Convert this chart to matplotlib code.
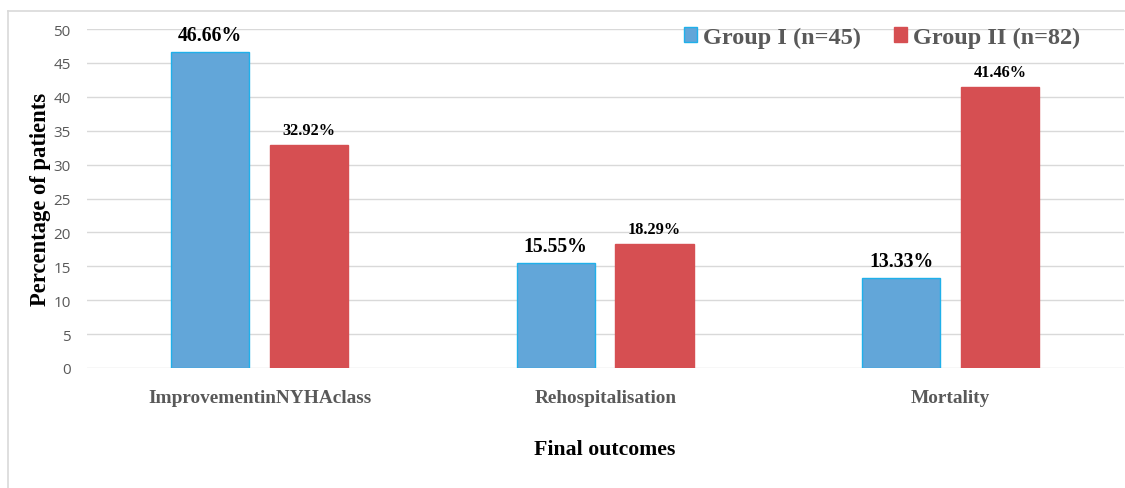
import matplotlib
matplotlib.use("Agg")
import matplotlib.pyplot as plt
from matplotlib.lines import Line2D
from matplotlib.patches import Patch
import numpy as np

categories = ["ImprovementinNYHAclass", "Rehospitalisation", "Mortality"]
group1 = [46.66, 15.55, 13.33]
group2 = [32.92, 18.29, 41.46]
series_names = ["Group I (n=45)", "Group II (n=82)"]
y_ticks = [0, 5, 10, 15, 20, 25, 30, 35, 40, 45, 50]

W, H = 1125, 489
fig = plt.figure(figsize=(W / 100, H / 100), dpi=100)
fig.patch.set_facecolor("white")

# outer chart-area frame
fig.add_artist(Line2D([8 / W, 8 / W], [0, 1 - 12 / H], color="#d9d9d9", lw=1.2,
                      transform=fig.transFigure))
fig.add_artist(Line2D([8 / W, 1], [1 - 12 / H, 1 - 12 / H], color="#d9d9d9", lw=1.2,
                      transform=fig.transFigure))

left, right = 86.75 / W, 1123.5 / W
bottom, top = 1 - 369 / H, 1 - 30 / H
ax = fig.add_axes([left, bottom, right - left, top - bottom])

x = np.arange(len(categories))
bw = 0.226
off = (bw + 0.06) / 2
blue_face, blue_edge = "#62a6d9", "#1fb0ea"
red_face, red_edge = "#d64f52", "#d64f52"

b1 = ax.bar(x - off, group1, bw, color=blue_face, edgecolor=blue_edge, linewidth=1.0, zorder=3)
b2 = ax.bar(x + off, group2, bw, color=red_face, edgecolor=red_edge, linewidth=1.0, zorder=3)

serif = "Liberation Serif"
for rect, v in zip(b1, group1):
    ax.annotate(f"{v:.2f}%", (rect.get_x() + rect.get_width() / 2, v),
                xytext=(0, 5), textcoords="offset points", ha="center", va="bottom",
                fontsize=14.2, fontweight="bold", family=serif, color="black")
for rect, v in zip(b2, group2):
    ax.annotate(f"{v:.2f}%", (rect.get_x() + rect.get_width() / 2, v),
                xytext=(0, 5), textcoords="offset points", ha="center", va="bottom",
                fontsize=11.8, fontweight="bold", family=serif, color="black")

ax.set_xlim(-0.5, len(categories) - 0.5)
ax.set_ylim(0, 50)
ax.set_yticks(y_ticks)
ax.yaxis.grid(True, color="#d9d9d9", linewidth=1.0, zorder=0)
ax.set_axisbelow(True)
for s in ax.spines.values():
    s.set_visible(False)
ax.tick_params(axis="y", length=0, pad=11.5, labelsize=11, labelcolor="#595959")
ax.tick_params(axis="x", length=0, pad=15)
for lab in ax.get_yticklabels():
    lab.set_family("Open Sans")
ax.set_xticks(x)
ax.set_xticklabels(categories, fontsize=13.9, fontweight="bold", family=serif, color="#595959")

ax.set_ylabel("Percentage of patients", fontsize=16.3, fontweight="bold", family=serif,
              color="black", labelpad=2)
ax.set_xlabel("Final outcomes", fontsize=15.7, fontweight="bold", family=serif,
              color="black", labelpad=24)

handles = [Patch(facecolor=blue_face, edgecolor=blue_edge, linewidth=1.0),
           Patch(facecolor=red_face, edgecolor=red_edge, linewidth=1.0)]
leg = ax.legend(handles, series_names, ncol=2, frameon=False,
                loc="upper left", bbox_to_anchor=(674 / W, 1 - 18 / H),
                bbox_transform=fig.transFigure,
                handlelength=0.55, handleheight=0.55, handletextpad=0.25,
                columnspacing=1.35, borderaxespad=0,
                prop={"family": serif, "weight": "bold", "size": 17.5})
for t in leg.get_texts():
    t.set_color("#595959")

fig.savefig("out.png", dpi=100, facecolor="white")
